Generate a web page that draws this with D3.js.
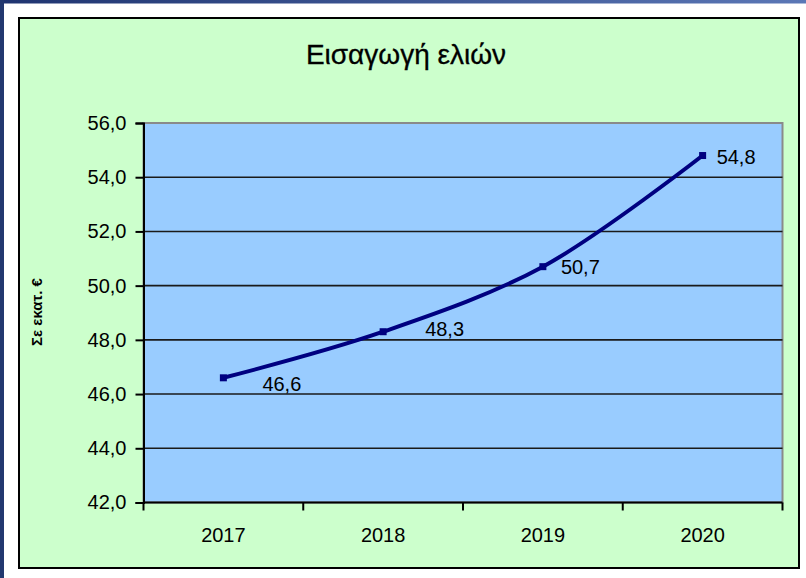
<!DOCTYPE html>
<html>
<head>
<meta charset="utf-8">
<script src="https://cdn.jsdelivr.net/npm/d3@7"></script>
<style>
  body { margin: 0; background: #ffffff; }
  svg { display: block; }
</style>
</head>
<body>
<div id="chart"></div>
<script>
// data
var years = ["2017", "2018", "2019", "2020"];
var values = [46.6, 48.3, 50.7, 54.8];
var yTicks = [42, 44, 46, 48, 50, 52, 54, 56];
var titleText = "Εισαγωγή ελιών";
var yLabelText = "Σε εκατ. €";

// label nudges (dx, dy from the point), placed by hand like in the source chart
var labelNudge = [[39, 6], [42, -3], [18, 0], [14, 1]];

var W = 806, H = 578;
var plot = { left: 143.5, right: 782.5, top: 123, bottom: 502.5 };

var fmt = function(v) { return d3.format(".1f")(v).replace(".", ","); };

var svg = d3.select("#chart")
  .append("svg")
  .attr("width", W)
  .attr("height", H);

// outer slide frame (navy bands)
var defs = svg.append("defs");
var grad = defs.append("linearGradient").attr("id", "topband");
grad.append("stop").attr("offset", "0%").attr("stop-color", "#1f3470");
grad.append("stop").attr("offset", "100%").attr("stop-color", "#5b77b6");

svg.append("rect").attr("width", W).attr("height", H).attr("fill", "#ffffff");
svg.append("rect").attr("x", 0).attr("y", 0).attr("width", W).attr("height", 3.5)
  .attr("fill", "url(#topband)");
svg.append("rect").attr("x", 0).attr("y", 0).attr("width", 4).attr("height", H)
  .attr("fill", "#22386f");

// chart area
svg.append("rect")
  .attr("x", 19).attr("y", 18)
  .attr("width", 780).attr("height", 550)
  .attr("fill", "#ccffcc")
  .attr("stroke", "#000000")
  .attr("stroke-width", 2);

// title
svg.append("text")
  .attr("x", 406)
  .attr("y", 54)
  .attr("text-anchor", "middle")
  .attr("dominant-baseline", "central")
  .style("font-family", "'Liberation Sans', Arial, sans-serif")
  .style("font-size", "28px")
  .style("fill", "#000000")
  .style("stroke", "#000000")
  .style("stroke-width", 0.3)
  .text(titleText);

// scales
var x = d3.scaleBand()
  .domain(years)
  .range([plot.left, plot.right])
  .padding(0);
var y = d3.scaleLinear()
  .domain([42, 56])
  .range([plot.bottom, plot.top]);

// plot area
svg.append("rect")
  .attr("x", plot.left).attr("y", plot.top)
  .attr("width", plot.right - plot.left)
  .attr("height", plot.bottom - plot.top)
  .attr("fill", "#99ccff")
  .attr("stroke", "#8a8a8a")
  .attr("stroke-width", 2);

// gridlines
svg.append("g")
  .selectAll("line")
  .data(yTicks.slice(1, -1))
  .enter()
  .append("line")
  .attr("x1", plot.left).attr("x2", plot.right)
  .attr("y1", function(d) { return y(d); })
  .attr("y2", function(d) { return y(d); })
  .attr("stroke", "#1a1a1a")
  .attr("stroke-width", 1.6);

// Y axis
var yAxis = svg.append("g")
  .attr("transform", "translate(" + plot.left + ",0)")
  .call(d3.axisLeft(y).tickValues(yTicks).tickSize(8).tickPadding(9).tickFormat(fmt));
yAxis.select(".domain").attr("stroke", "#000").attr("stroke-width", 2);
yAxis.selectAll(".tick line").attr("stroke", "#000").attr("stroke-width", 2);
yAxis.selectAll(".tick text")
  .style("font-family", "'Liberation Sans', Arial, sans-serif")
  .style("font-size", "20px")
  .style("fill", "#000");

// X axis (ticks on the category boundaries)
var xAxis = svg.append("g")
  .attr("transform", "translate(0," + plot.bottom + ")");
xAxis.append("line")
  .attr("x1", plot.left).attr("x2", plot.right)
  .attr("stroke", "#000").attr("stroke-width", 2);
xAxis.selectAll(".xtick")
  .data(years)
  .enter()
  .append("line")
  .attr("class", "xtick")
  .attr("x1", function(d) { return x(d) + x.bandwidth(); })
  .attr("x2", function(d) { return x(d) + x.bandwidth(); })
  .attr("y1", 0).attr("y2", 8)
  .attr("stroke", "#000").attr("stroke-width", 2);
xAxis.append("line")
  .attr("x1", plot.left).attr("x2", plot.left)
  .attr("y1", 0).attr("y2", 8)
  .attr("stroke", "#000").attr("stroke-width", 2);
xAxis.selectAll(".xlabel")
  .data(years)
  .enter()
  .append("text")
  .attr("class", "xlabel")
  .attr("x", function(d) { return x(d) + x.bandwidth() / 2; })
  .attr("y", 32)
  .attr("text-anchor", "middle")
  .attr("dominant-baseline", "central")
  .style("font-family", "'Liberation Sans', Arial, sans-serif")
  .style("font-size", "20px")
  .style("fill", "#000")
  .text(function(d) { return d; });

// Y axis title
svg.append("text")
  .attr("text-anchor", "middle")
  .attr("dominant-baseline", "central")
  .attr("transform", "translate(36,312)rotate(-90)")
  .style("font-family", "'Liberation Sans', Arial, sans-serif")
  .style("font-size", "15px")
  .style("font-weight", "bold")
  .style("fill", "#000")
  .text(yLabelText);

// the line (smoothed, like the source)
var pts = years.map(function(d, i) { return { year: d, value: values[i] }; });
var cx = function(d) { return x(d.year) + x.bandwidth() / 2; };

svg.append("path")
  .datum(pts)
  .attr("fill", "none")
  .attr("stroke", "#000080")
  .attr("stroke-width", 4)
  .attr("d", d3.line()
    .x(cx)
    .y(function(d) { return y(d.value); })
    .curve(d3.curveCatmullRom.alpha(0.5))
  );

// markers
svg.append("g")
  .selectAll("rect")
  .data(pts)
  .enter()
  .append("rect")
  .attr("x", function(d) { return cx(d) - 3.5; })
  .attr("y", function(d) { return y(d.value) - 3.5; })
  .attr("width", 7).attr("height", 7)
  .attr("fill", "#000080");

// data labels
svg.append("g")
  .selectAll("text")
  .data(pts)
  .enter()
  .append("text")
  .attr("x", function(d, i) { return cx(d) + labelNudge[i][0]; })
  .attr("y", function(d, i) { return y(d.value) + labelNudge[i][1]; })
  .attr("dominant-baseline", "central")
  .style("font-family", "'Liberation Sans', Arial, sans-serif")
  .style("font-size", "20px")
  .style("fill", "#000")
  .text(function(d) { return fmt(d.value); });
</script>
</body>
</html>
